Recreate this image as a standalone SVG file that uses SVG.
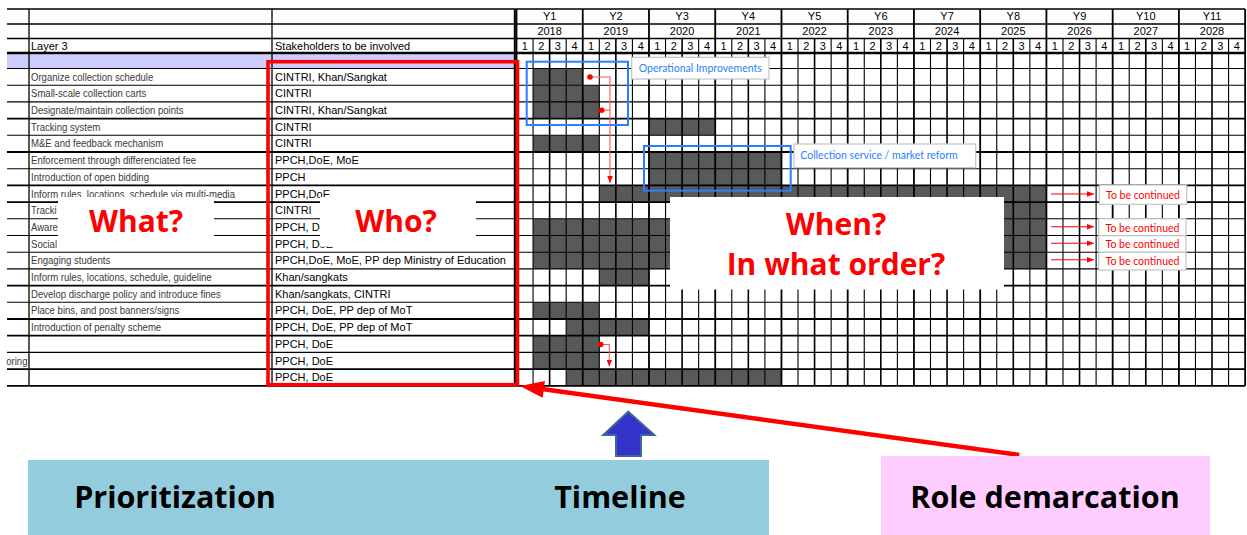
<svg xmlns="http://www.w3.org/2000/svg" width="1247" height="535" viewBox="0 0 1247 535">
<style>
.t{font-family:"Liberation Sans",Arial,sans-serif;font-size:11px;fill:#000}
.hc{font-family:"Liberation Sans",Arial,sans-serif;font-size:11px;fill:#000;text-anchor:middle}
.act{font-family:"Liberation Sans",Arial,sans-serif;font-size:11px;fill:#3a3a3a}
.big{font-family:"Open Sans","Noto Sans",sans-serif;font-weight:700;font-size:30px;fill:#ff0000;text-anchor:middle}
.bot{font-family:"Open Sans","Noto Sans",sans-serif;font-weight:700;font-size:30.5px;fill:#000;text-anchor:middle}
.lb{font-family:Lato,"Open Sans",sans-serif;font-size:10.5px;text-anchor:middle}
.fill{fill:#595959}
.g1{stroke:#000;stroke-width:1.1;fill:none}
.g2{stroke:#000;stroke-width:1.8;fill:none}
.tag{fill:#fff;stroke:#c4c4c4;stroke-width:1.2}
.blue{fill:none;stroke:#2a7fff;stroke-width:2}
.thin{stroke:#ff5a5a;stroke-width:1.1;fill:none}
</style>
<defs>
<marker id="ah" viewBox="0 0 10 10" refX="10" refY="5" markerWidth="7" markerHeight="7" orient="auto" markerUnits="userSpaceOnUse"><path d="M0,1L10,5L0,9z" fill="#ff0000"/></marker>
</defs>
<rect width="1247" height="535" fill="#fff"/>

<g id="table">
<rect x="7" y="54.3" width="507" height="14.2" fill="#ccccff"/>
<g id="bars">
<rect class="fill" x="533.06" y="68.5" width="49.68" height="16.7"/>
<rect class="fill" x="533.06" y="85.2" width="66.24" height="33.4"/>
<rect class="fill" x="648.98" y="118.6" width="66.24" height="16.7"/>
<rect class="fill" x="533.06" y="135.3" width="66.24" height="16.7"/>
<rect class="fill" x="648.98" y="152" width="132.48" height="33.4"/>
<rect class="fill" x="599.3" y="185.4" width="447.12" height="16.7"/>
<rect class="fill" x="715.22" y="202.1" width="331.2" height="16.7"/>
<rect class="fill" x="533.06" y="218.8" width="513.36" height="50.1"/>
<rect class="fill" x="599.3" y="268.9" width="49.68" height="16.7"/>
<rect class="fill" x="533.06" y="302.3" width="66.24" height="16.7"/>
<rect class="fill" x="566.18" y="319" width="82.8" height="16.7"/>
<rect class="fill" x="533.06" y="335.7" width="66.24" height="33.4"/>
<rect class="fill" x="566.18" y="369.1" width="215.28" height="16.7"/>
</g>
<path class="g1" d="M7 68.5H1245.14M7 85.2H1245.14M7 101.9H1245.14M7 135.3H1245.14M7 168.7H1245.14M7 218.8H1245.14M7 235.5H1245.14M7 252.2H1245.14M7 268.9H1245.14M7 302.3H1245.14M7 352.4H1245.14"/>
<path class="g2" d="M7 118.6H1245.14M7 152H1245.14M7 185.4H1245.14M7 202.1H1245.14M7 285.6H1245.14M7 319H1245.14M7 335.7H1245.14M7 369.1H1245.14M7 385.8H1245.14"/>
<path stroke="#000" stroke-width="1.3" fill="none" d="M7 9H1245.14M7 24H1245.14M7 38.5H1245.14M29 9V385.8M272 9V385.8"/>
<path stroke="#000" stroke-width="2.5" fill="none" d="M7 53H1245.14"/>
<path stroke="#000" stroke-width="2" fill="none" d="M514.8 9V385.8"/>
<path class="g2" d="M516.5 9V385.8M582.74 9V385.8M648.98 9V385.8M715.22 9V385.8M781.46 9V385.8M847.7 9V385.8M913.94 9V385.8M980.18 9V385.8M1046.42 9V385.8M1112.66 9V385.8M1178.9 9V385.8M1245.14 9V385.8"/>
<path stroke="#000" stroke-width="1.6" fill="none" d="M549.62 38.5V385.8M615.86 38.5V385.8M682.1 38.5V385.8M748.34 38.5V385.8M814.58 38.5V385.8M880.82 38.5V385.8M947.06 38.5V385.8M1013.3 38.5V385.8M1079.54 38.5V385.8M1145.78 38.5V385.8M1212.02 38.5V385.8"/>
<path class="g1" d="M533.06 38.5V385.8M566.18 38.5V385.8M599.3 38.5V385.8M632.42 38.5V385.8M665.54 38.5V385.8M698.66 38.5V385.8M731.78 38.5V385.8M764.9 38.5V385.8M798.02 38.5V385.8M831.14 38.5V385.8M864.26 38.5V385.8M897.38 38.5V385.8M930.5 38.5V385.8M963.62 38.5V385.8M996.74 38.5V385.8M1029.86 38.5V385.8M1062.98 38.5V385.8M1096.1 38.5V385.8M1129.22 38.5V385.8M1162.34 38.5V385.8M1195.46 38.5V385.8M1228.58 38.5V385.8"/>

<g id="header">
<text class="t" x="31" y="50">Layer 3</text>
<text class="t" x="275" y="50">Stakeholders to be involved</text>
<text class="hc" x="549.62" y="20">Y1</text>
<text class="hc" x="615.86" y="20">Y2</text>
<text class="hc" x="682.1" y="20">Y3</text>
<text class="hc" x="748.34" y="20">Y4</text>
<text class="hc" x="814.58" y="20">Y5</text>
<text class="hc" x="880.82" y="20">Y6</text>
<text class="hc" x="947.06" y="20">Y7</text>
<text class="hc" x="1013.3" y="20">Y8</text>
<text class="hc" x="1079.54" y="20">Y9</text>
<text class="hc" x="1145.78" y="20">Y10</text>
<text class="hc" x="1212.02" y="20">Y11</text>
<text class="hc" x="549.62" y="35">2018</text>
<text class="hc" x="615.86" y="35">2019</text>
<text class="hc" x="682.1" y="35">2020</text>
<text class="hc" x="748.34" y="35">2021</text>
<text class="hc" x="814.58" y="35">2022</text>
<text class="hc" x="880.82" y="35">2023</text>
<text class="hc" x="947.06" y="35">2024</text>
<text class="hc" x="1013.3" y="35">2025</text>
<text class="hc" x="1079.54" y="35">2026</text>
<text class="hc" x="1145.78" y="35">2027</text>
<text class="hc" x="1212.02" y="35">2028</text>
<text class="hc" x="524.78" y="50">1</text><text class="hc" x="541.34" y="50">2</text><text class="hc" x="557.9" y="50">3</text><text class="hc" x="574.46" y="50">4</text>
<text class="hc" x="591.02" y="50">1</text><text class="hc" x="607.58" y="50">2</text><text class="hc" x="624.14" y="50">3</text><text class="hc" x="640.7" y="50">4</text>
<text class="hc" x="657.26" y="50">1</text><text class="hc" x="673.82" y="50">2</text><text class="hc" x="690.38" y="50">3</text><text class="hc" x="706.94" y="50">4</text>
<text class="hc" x="723.5" y="50">1</text><text class="hc" x="740.06" y="50">2</text><text class="hc" x="756.62" y="50">3</text><text class="hc" x="773.18" y="50">4</text>
<text class="hc" x="789.74" y="50">1</text><text class="hc" x="806.3" y="50">2</text><text class="hc" x="822.86" y="50">3</text><text class="hc" x="839.42" y="50">4</text>
<text class="hc" x="855.98" y="50">1</text><text class="hc" x="872.54" y="50">2</text><text class="hc" x="889.1" y="50">3</text><text class="hc" x="905.66" y="50">4</text>
<text class="hc" x="922.22" y="50">1</text><text class="hc" x="938.78" y="50">2</text><text class="hc" x="955.34" y="50">3</text><text class="hc" x="971.9" y="50">4</text>
<text class="hc" x="988.46" y="50">1</text><text class="hc" x="1005.02" y="50">2</text><text class="hc" x="1021.58" y="50">3</text><text class="hc" x="1038.14" y="50">4</text>
<text class="hc" x="1054.7" y="50">1</text><text class="hc" x="1071.26" y="50">2</text><text class="hc" x="1087.82" y="50">3</text><text class="hc" x="1104.38" y="50">4</text>
<text class="hc" x="1120.94" y="50">1</text><text class="hc" x="1137.5" y="50">2</text><text class="hc" x="1154.06" y="50">3</text><text class="hc" x="1170.62" y="50">4</text>
<text class="hc" x="1187.18" y="50">1</text><text class="hc" x="1203.74" y="50">2</text><text class="hc" x="1220.3" y="50">3</text><text class="hc" x="1236.86" y="50">4</text>
</g>

<g id="activities">
<text class="act" transform="translate(31 80.65) scale(0.87 1)">Organize collection schedule</text>
<text class="act" transform="translate(31 97.35) scale(0.87 1)">Small-scale collection carts</text>
<text class="act" transform="translate(31 114.05) scale(0.87 1)">Designate/maintain collection points</text>
<text class="act" transform="translate(31 130.75) scale(0.87 1)">Tracking system</text>
<text class="act" transform="translate(31 147.45) scale(0.87 1)">M&amp;E and feedback mechanism</text>
<text class="act" transform="translate(31 164.15) scale(0.87 1)">Enforcement through differenciated fee</text>
<text class="act" transform="translate(31 180.85) scale(0.87 1)">Introduction of open bidding</text>
<text class="act" transform="translate(31 197.55) scale(0.87 1)">Inform rules, locations, schedule via multi-media</text>
<text class="act" transform="translate(31 214.25) scale(0.87 1)">Tracki</text>
<text class="act" transform="translate(31 230.95) scale(0.87 1)">Awaren</text>
<text class="act" transform="translate(31 247.65) scale(0.87 1)">Social</text>
<text class="act" transform="translate(31 264.35) scale(0.87 1)">Engaging students</text>
<text class="act" transform="translate(31 281.05) scale(0.87 1)">Inform rules, locations, schedule, guideline</text>
<text class="act" transform="translate(31 297.75) scale(0.87 1)">Develop discharge policy and introduce fines</text>
<text class="act" transform="translate(31 314.45) scale(0.87 1)">Place bins, and post banners/signs</text>
<text class="act" transform="translate(31 331.15) scale(0.87 1)">Introduction of penalty scheme</text>
<text class="act" transform="translate(27.5 364.55) scale(0.87 1)" text-anchor="end">oring</text>
</g>

<g id="stakeholders">
<text class="t" x="275" y="80.65">CINTRI, Khan/Sangkat</text>
<text class="t" x="275" y="97.35">CINTRI</text>
<text class="t" x="275" y="114.05">CINTRI, Khan/Sangkat</text>
<text class="t" x="275" y="130.75">CINTRI</text>
<text class="t" x="275" y="147.45">CINTRI</text>
<text class="t" x="275" y="164.15">PPCH,DoE, MoE</text>
<text class="t" x="275" y="180.85">PPCH</text>
<text class="t" x="275" y="197.55">PPCH,DoE</text>
<text class="t" x="275" y="214.25">CINTRI</text>
<text class="t" x="275" y="230.95">PPCH, DoE</text>
<text class="t" x="275" y="247.65">PPCH, DoE</text>
<text class="t" x="275" y="264.35">PPCH,DoE, MoE, PP dep Ministry of Education</text>
<text class="t" x="275" y="281.05">Khan/sangkats</text>
<text class="t" x="275" y="297.75">Khan/sangkats, CINTRI</text>
<text class="t" x="275" y="314.45">PPCH, DoE, PP dep of MoT</text>
<text class="t" x="275" y="331.15">PPCH, DoE, PP dep of MoT</text>
<text class="t" x="275" y="347.85">PPCH, DoE</text>
<text class="t" x="275" y="364.55">PPCH, DoE</text>
<text class="t" x="275" y="381.25">PPCH, DoE</text>
</g>
</g>

<g id="red-frame">
<rect x="268" y="61.7" width="249.5" height="323" fill="none" stroke="#ff0000" stroke-width="3.6"/>
</g>

<g id="operational">
<rect class="blue" x="526.7" y="61.7" width="101.3" height="63.3"/>
<rect class="tag" x="631.7" y="57.3" width="137.3" height="21.7"/>
<text class="lb" x="700.3" y="71.5" fill="#2a7fff">Operational Improvements</text>
</g>

<g id="collection">
<rect class="blue" x="644" y="146" width="146.7" height="44.7"/>
<rect class="tag" x="794" y="144" width="181.7" height="23.7"/>
<text class="lb" x="879" y="158.5" fill="#2a7fff">Collection service / market reform</text>
</g>

<g id="what">
<rect x="58" y="197" width="156" height="49.5" fill="#fff"/>
<text class="big" x="136" y="231.5">What?</text>
</g>
<g id="who">
<rect x="320" y="197" width="156" height="49.5" fill="#fff"/>
<text class="big" x="396" y="231.5">Who?</text>
</g>
<g id="when">
<rect x="670" y="197" width="334" height="92.5" fill="#fff"/>
<text class="big" x="836" y="235">When?</text>
<text class="big" x="836" y="275">In what order?</text>
</g>

<g id="continued">
<rect class="tag" x="1099.3" y="185" width="87.4" height="19.3"/>
<text class="lb" x="1143" y="199" fill="#ff0000">To be continued</text>
<rect class="tag" x="1098.7" y="218.7" width="87.3" height="17"/>
<text class="lb" x="1142.5" y="231.8" fill="#ff0000">To be continued</text>
<rect class="tag" x="1098.7" y="235.7" width="87.3" height="16.6"/>
<text class="lb" x="1142.5" y="248.3" fill="#ff0000">To be continued</text>
<rect class="tag" x="1098.7" y="252.3" width="87.3" height="17.7"/>
<text class="lb" x="1142.5" y="265" fill="#ff0000">To be continued</text>
</g>

<g id="connectors">
<path class="thin" d="M590 77H610V183" marker-end="url(#ah)"/>
<path class="thin" d="M601.7 110.2H610"/>
<circle cx="590" cy="77" r="2.8" fill="#ff0000"/>
<circle cx="601.7" cy="110.2" r="2.8" fill="#ff0000"/>
<path class="thin" d="M600.7 344.5H609.3V366.5" marker-end="url(#ah)"/>
<circle cx="600.7" cy="344.5" r="2.8" fill="#ff0000"/>
<path stroke="#ff0000" stroke-width="1.1" fill="none" d="M1051 194H1094" marker-end="url(#ah)"/>
<path stroke="#ff0000" stroke-width="1.1" fill="none" d="M1051 226.7H1094" marker-end="url(#ah)"/>
<path stroke="#ff0000" stroke-width="1.1" fill="none" d="M1051 243.3H1094" marker-end="url(#ah)"/>
<path stroke="#ff0000" stroke-width="1.1" fill="none" d="M1051 259.7H1094" marker-end="url(#ah)"/>
<path stroke="#ff0000" stroke-width="4.5" fill="none" d="M1019.3 455L542 389.1"/>
<polygon points="520,386 542.6,397.7 545,380.9" fill="#ff0000"/>
<polygon points="628.3,411.7 654.3,435 641,435 641,456 616,456 616,435 603.3,435" fill="#3333cc" stroke="#41649a" stroke-width="2"/>
</g>

<g id="bottom">
<rect x="28" y="460" width="741" height="75" fill="#93cddd"/>
<rect x="881" y="456" width="329" height="79" fill="#ffccff"/>
<text class="bot" x="175" y="508">Prioritization</text>
<text class="bot" x="620" y="508">Timeline</text>
<text class="bot" x="1045" y="508">Role demarcation</text>
</g>
</svg>
